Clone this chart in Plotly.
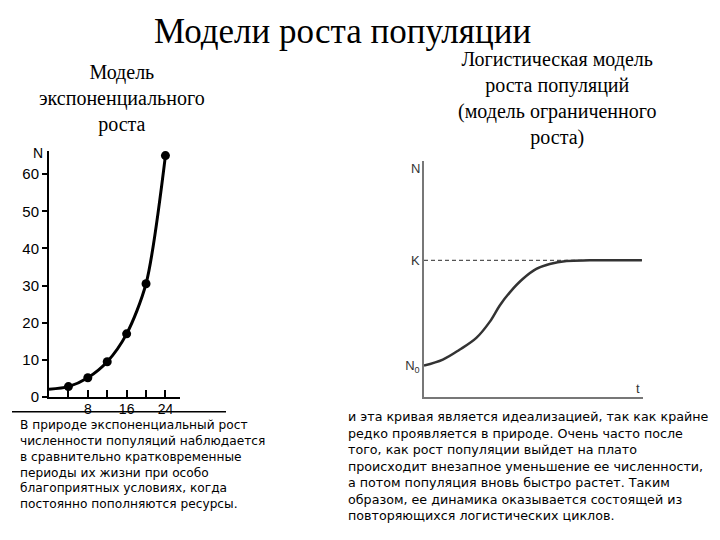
import plotly.graph_objects as go

# ---- data ----
exp_t = [0, 4, 8, 12, 16, 20, 24]
exp_n = [2.1, 2.8, 5.2, 9.5, 17, 30.5, 65]
exp_ticks = [0, 10, 20, 30, 40, 50, 60]
exp_xticks = [8, 16, 24]
exp_xminor = [4, 12, 20]

log_t = [0, 0.86, 1.62, 2.39, 3.0, 3.46, 3.92, 4.52, 5.13, 5.74, 6.51, 7.57, 9.95]
log_n = [23, 27.4, 34.6, 43.3, 55, 67, 76.6, 86.5, 93.7, 97.3, 99.5, 100, 100]
K = 100
N0 = 23

title = "Модели роста популяции"
sub_left = "Модель<br>экспоненциального<br>роста"
sub_right = "Логистическая модель<br>роста популяций<br>(модель ограниченного<br>роста)"
text_left = ("В природе экспоненциальный рост<br>численности популяций наблюдается<br>"
             "в сравнительно кратковременные<br>периоды их жизни при особо<br>"
             "благоприятных условиях, когда<br>постоянно пополняются ресурсы.")
text_right = ("и эта кривая является идеализацией, так как крайне<br>"
              "редко проявляется в природе. Очень часто после<br>"
              "того, как рост популяции выйдет на плато<br>"
              "происходит внезапное уменьшение ее численности,<br>"
              "а потом популяция вновь быстро растет. Таким<br>"
              "образом, ее динамика оказывается состоящей из<br>"
              "повторяющихся логистических циклов.")

W, H = 720, 540
def px(x):
    return x / W
def py(y):
    return 1 - y / H

fig = go.Figure()

# exponential curve
fig.add_trace(go.Scatter(x=exp_t, y=exp_n, mode="lines",
                         line=dict(color="black", width=3, shape="spline", smoothing=0.8),
                         xaxis="x", yaxis="y", cliponaxis=False, hoverinfo="skip"))
fig.add_trace(go.Scatter(x=exp_t[1:], y=exp_n[1:], mode="markers",
                         marker=dict(color="black", size=9),
                         xaxis="x", yaxis="y", cliponaxis=False))

# logistic: dashed K line and curve
fig.add_trace(go.Scatter(x=[0, log_t[-1]], y=[K, K], mode="lines",
                         line=dict(color="#555555", width=1.2, dash="4px,3px"),
                         xaxis="x2", yaxis="y2", hoverinfo="skip"))
fig.add_trace(go.Scatter(x=log_t, y=log_n, mode="lines",
                         line=dict(color="#333333", width=2.5, shape="spline", smoothing=1.0),
                         xaxis="x2", yaxis="y2", cliponaxis=False))

sans = "Liberation Sans, Arial, sans-serif"
wide = "DejaVu Sans, Verdana, sans-serif"
serif = "Liberation Serif, Times New Roman, serif"

fig.update_layout(
    width=W, height=H, margin=dict(l=0, r=0, t=0, b=0),
    paper_bgcolor="white", plot_bgcolor="white", showlegend=False,
    xaxis=dict(domain=[px(49), px(180)], range=[0, 27], anchor="y",
               showline=True, linecolor="black", linewidth=2,
               ticks="inside", ticklen=7, tickwidth=1.5, tickcolor="black",
               tickvals=exp_xticks, ticklabelstandoff=-2,
               minor=dict(tickvals=exp_xminor, ticks="inside", ticklen=7,
                          tickwidth=1.5, tickcolor="black", showgrid=False),
               tickfont=dict(family=sans, size=14, color="black"),
               showgrid=False, zeroline=False, fixedrange=True),
    yaxis=dict(domain=[py(403), py(153)], range=[0, 66.3], anchor="x",
               showline=True, linecolor="black", linewidth=2,
               ticks="outside", ticklen=5, tickwidth=2, tickcolor="black",
               tickvals=exp_ticks,
               tickfont=dict(family=sans, size=15, color="black"),
               showgrid=False, zeroline=False, fixedrange=True),
    xaxis2=dict(domain=[px(424), px(643)], range=[0, 10], anchor="y2",
                showline=True, linecolor="#777777", linewidth=1.5,
                showticklabels=False, ticks="",
                showgrid=False, zeroline=False, fixedrange=True),
    yaxis2=dict(domain=[py(403), py(163)], range=[0, 173], anchor="x2",
                showline=True, linecolor="#777777", linewidth=1.5,
                ticks="", tickvals=[N0, K], ticktext=["N<sub>0</sub>", "K"],
                tickfont=dict(family=sans, size=13, color="#333333"),
                showgrid=False, zeroline=False, fixedrange=True),
)

fig.add_shape(type="line", xref="paper", yref="paper",
              x0=px(12), x1=px(226), y0=py(418), y1=py(418),
              line=dict(color="black", width=1.5))

ann = [
    dict(text=title, x=px(342), y=py(32), font=dict(family=serif, size=35, color="black")),
    dict(text=sub_left, x=px(122), y=py(100), font=dict(family=serif, size=20, color="black")),
    dict(text=sub_right, x=px(557), y=py(100), font=dict(family=serif, size=20, color="black")),
    dict(text="N", x=px(38), y=py(155), font=dict(family=sans, size=14, color="black")),
    dict(text="N", x=px(416), y=py(171), font=dict(family=sans, size=13, color="#333333")),
    dict(text="t", x=px(638), y=py(394), font=dict(family=sans, size=13, color="#333333")),
]
for a in ann:
    fig.add_annotation(xref="paper", yref="paper", showarrow=False,
                       xanchor="center", yanchor="middle", **a)

fig.add_annotation(xref="paper", yref="paper", showarrow=False, align="left",
                   xanchor="left", yanchor="top", x=px(18), y=py(422),
                   text=text_left, font=dict(family=wide, size=12.2, color="black"))
fig.add_annotation(xref="paper", yref="paper", showarrow=False, align="left",
                   xanchor="left", yanchor="top", x=px(346), y=py(413),
                   text=text_right, font=dict(family=wide, size=12.7, color="black"))

fig.write_html("out.html")
